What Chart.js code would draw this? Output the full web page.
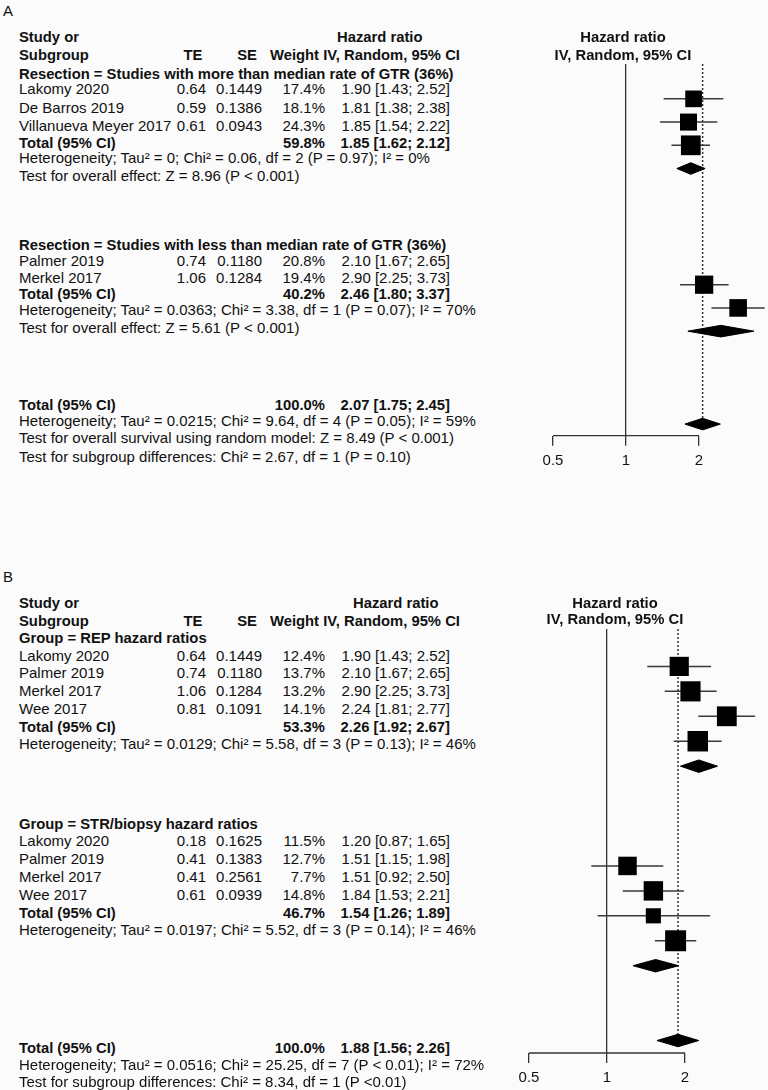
<!DOCTYPE html>
<html>
<head>
<meta charset="utf-8">
<script src="https://cdn.jsdelivr.net/npm/chart.js@4.4.1/dist/chart.umd.min.js"></script>
<style>
    body {
        margin: 0;
        width: 768px;
        height: 1090px;
        position: relative;
        overflow: hidden;
        background: #fbfbfb;
        font-family: "Liberation Sans", Arial, Helvetica, sans-serif;
        font-size: 15px;
        color: #111;
    }
    .t { position: absolute; white-space: nowrap; line-height: 18px; height: 18px; }
    .b { font-weight: bold; font-size: 14.8px; }
    canvas { position: absolute; }
</style>
</head>
<body>
<canvas id="plotA" width="292" height="500" style="left:480px;top:0px"></canvas>
<canvas id="plotB" width="283" height="545" style="left:480px;top:560px"></canvas>
<script>
// ---- Panel A data ----
const aGroupTitles = ['Resection = Studies with more than median rate of GTR (36%)',
                      'Resection = Studies with less than median rate of GTR (36%)'];
const aStudies = ['Lakomy 2020', 'De Barros 2019', 'Villanueva Meyer 2017', 'Palmer 2019', 'Merkel 2017'];
const aGroupOf = [0, 0, 0, 1, 1];
const aTE = [0.64, 0.59, 0.61, 0.74, 1.06];
const aSE = [0.1449, 0.1386, 0.0943, 0.1180, 0.1284];
const aWeight = [17.4, 18.1, 24.3, 20.8, 19.4];
const aHR = [1.90, 1.81, 1.85, 2.10, 2.90];
const aLower = [1.43, 1.38, 1.54, 1.67, 2.25];
const aUpper = [2.52, 2.38, 2.22, 2.65, 3.73];
// subgroup 1, subgroup 2, overall
const aTotalWeight = [59.8, 40.2, 100.0];
const aTotalHR = [1.85, 2.46, 2.07];
const aTotalLower = [1.62, 1.80, 1.75];
const aTotalUpper = [2.12, 3.37, 2.45];
const aGroupNotes = [
    ['Heterogeneity; Tau² = 0; Chi² = 0.06, df = 2 (P = 0.97); I² = 0%',
     'Test for overall effect: Z = 8.96 (P < 0.001)'],
    ['Heterogeneity; Tau² = 0.0363; Chi² = 3.38, df = 1 (P = 0.07); I² = 70%',
     'Test for overall effect: Z = 5.61 (P < 0.001)']
];
const aOverallNotes = ['Heterogeneity; Tau² = 0.0215; Chi² = 9.64, df = 4 (P = 0.05); I² = 59%',
                       'Test for overall survival using random model: Z = 8.49 (P < 0.001)',
                       'Test for subgroup differences: Chi² = 2.67, df = 1 (P = 0.10)'];

// ---- Panel B data ----
const bGroupTitles = ['Group = REP hazard ratios', 'Group = STR/biopsy hazard ratios'];
const bStudies = ['Lakomy 2020', 'Palmer 2019', 'Merkel 2017', 'Wee 2017',
                  'Lakomy 2020', 'Palmer 2019', 'Merkel 2017', 'Wee 2017'];
const bGroupOf = [0, 0, 0, 0, 1, 1, 1, 1];
const bTE = [0.64, 0.74, 1.06, 0.81, 0.18, 0.41, 0.41, 0.61];
const bSE = [0.1449, 0.1180, 0.1284, 0.1091, 0.1625, 0.1383, 0.2561, 0.0939];
const bWeight = [12.4, 13.7, 13.2, 14.1, 11.5, 12.7, 7.7, 14.8];
const bHR = [1.90, 2.10, 2.90, 2.24, 1.20, 1.51, 1.51, 1.84];
const bLower = [1.43, 1.67, 2.25, 1.81, 0.87, 1.15, 0.92, 1.53];
const bUpper = [2.52, 2.65, 3.73, 2.77, 1.65, 1.98, 2.50, 2.21];
const bTotalWeight = [53.3, 46.7, 100.0];
const bTotalHR = [2.26, 1.54, 1.88];
const bTotalLower = [1.92, 1.26, 1.56];
const bTotalUpper = [2.67, 1.89, 2.26];
const bGroupNotes = [
    ['Heterogeneity; Tau² = 0.0129; Chi² = 5.58, df = 3 (P = 0.13); I² = 46%'],
    ['Heterogeneity; Tau² = 0.0197; Chi² = 5.52, df = 3 (P = 0.14); I² = 46%']
];
const bOverallNotes = ['Heterogeneity; Tau² = 0.0516; Chi² = 25.25, df = 7 (P < 0.01); I² = 72%',
                       'Test for subgroup differences: Chi² = 8.34, df = 1 (P <0.01)'];

const axisTicks = [0.5, 1, 2];
const plotRangeMax = 4; // plot area runs past the last tick so wide CIs stay visible

// ---- layout (pixel rows of the text table, row slots of the plot) ----
const layoutA = {
    label: 'A', labelY: 11, headY: [37, 55], hrHeadX: 337,
    groups: [
        { titleY: 74, rowY: [89, 108, 126], totalY: 143, noteY: [158, 176] },
        { titleY: 245, rowY: [260.5, 278], totalY: 294, noteY: [310, 328] }
    ],
    overallY: 405, overallNoteY: [421, 438, 457],
    plotHeadY: [37, 55], plotHeadX: 623,
    studyRows: [0, 1, 2, 8, 9], totalRows: [3, 10, 14],
    rowMin: -1.5, rowMax: 14.5, squareK: 4.0,
    pad: { left: 73, right: 0, top: 64, bottom: 24.3 }
};
const layoutB = {
    label: 'B', labelY: 577, headY: [603, 621], hrHeadX: 353,
    groups: [
        { titleY: 638, rowY: [655.5, 673, 691, 709], totalY: 727, noteY: [744] },
        { titleY: 824, rowY: [841, 859, 877, 895], totalY: 913, noteY: [930] }
    ],
    overallY: 1048, overallNoteY: [1065, 1082],
    plotHeadY: [603, 619], plotHeadX: 615,
    studyRows: [0, 1, 2, 3, 8, 9, 10, 11], totalRows: [4, 12, 15],
    rowMin: -1.5, rowMax: 15.5, squareK: 5.45,
    pad: { left: 49, right: 0, top: 69, bottom: 12 }
};

function txt(s, x, y, align, bold) {
    const d = document.createElement('div');
    d.className = 't' + (bold ? ' b' : '');
    d.textContent = s;
    d.style.left = x + 'px';
    d.style.top = (y - 9) + 'px';
    if (align === 'right') d.style.transform = 'translateX(-100%)';
    if (align === 'center') d.style.transform = 'translateX(-50%)';
    document.body.appendChild(d);
}

function hrText(hr, lo, hi) {
    return hr.toFixed(2) + ' [' + lo.toFixed(2) + '; ' + hi.toFixed(2) + ']';
}

function drawTable(L, d) {
    const X_NAME = 19, X_TE = 206, X_SE = 262, X_W = 325, X_HR = 450;
    txt(L.label, 3, L.labelY, 'left', false);
    txt('Study or', X_NAME, L.headY[0], 'left', true);
    txt('Subgroup', X_NAME, L.headY[1], 'left', true);
    txt('TE', 193, L.headY[1], 'center', true);
    txt('SE', 257, L.headY[1], 'right', true);
    txt('Hazard ratio', L.hrHeadX, L.headY[0], 'left', true);
    txt('Weight IV, Random, 95% CI', 270, L.headY[1], 'left', true);

    L.groups.forEach((g, gi) => {
        txt(d.groupTitles[gi], X_NAME, g.titleY, 'left', true);
        const idx = d.studies.map((s, i) => i).filter(i => d.groupOf[i] === gi);
        idx.forEach((i, k) => {
            const y = g.rowY[k];
            txt(d.studies[i], X_NAME, y, 'left', false);
            txt(d.te[i].toFixed(2), X_TE, y, 'right', false);
            txt(d.se[i].toFixed(4), X_SE, y, 'right', false);
            txt(d.weight[i].toFixed(1) + '%', X_W, y, 'right', false);
            txt(hrText(d.hr[i], d.lower[i], d.upper[i]), X_HR, y, 'right', false);
        });
        txt('Total (95% CI)', X_NAME, g.totalY, 'left', true);
        txt(d.totalWeight[gi].toFixed(1) + '%', X_W, g.totalY, 'right', true);
        txt(hrText(d.totalHR[gi], d.totalLower[gi], d.totalUpper[gi]), X_HR, g.totalY, 'right', true);
        d.groupNotes[gi].forEach((n, k) => txt(n, X_NAME, g.noteY[k], 'left', false));
    });

    txt('Total (95% CI)', X_NAME, L.overallY, 'left', true);
    txt(d.totalWeight[2].toFixed(1) + '%', X_W, L.overallY, 'right', true);
    txt(hrText(d.totalHR[2], d.totalLower[2], d.totalUpper[2]), X_HR, L.overallY, 'right', true);
    d.overallNotes.forEach((n, k) => txt(n, X_NAME, L.overallNoteY[k], 'left', false));

    txt('Hazard ratio', L.plotHeadX, L.plotHeadY[0], 'center', true);
    txt('IV, Random, 95% CI', L.plotHeadX, L.plotHeadY[1], 'center', true);
}

function drawPlot(canvasId, L, d) {
    const datasets = [];
    const DH = 0.25; // diamond half height in row units

    // squares
    datasets.push({
        data: d.hr.map((v, i) => ({ x: v, y: L.studyRows[i] })),
        pointStyle: 'rect',
        pointRadius: d.weight.map(w => L.squareK * Math.sqrt(w) / (2 * Math.SQRT1_2)),
        backgroundColor: '#000',
        borderColor: '#000',
        borderWidth: 0,
        showLine: false
    });
    // diamonds
    d.totalHR.forEach((v, k) => {
        const r = L.totalRows[k];
        datasets.push({
            data: [
                { x: d.totalLower[k], y: r }, { x: v, y: r - DH },
                { x: d.totalUpper[k], y: r }, { x: v, y: r + DH },
                { x: d.totalLower[k], y: r }
            ],
            showLine: true, fill: 'shape', pointRadius: 0,
            borderColor: '#000', backgroundColor: '#000', borderWidth: 1, tension: 0
        });
    });
    // confidence intervals
    d.hr.forEach((v, i) => {
        datasets.push({
            data: [{ x: d.lower[i], y: L.studyRows[i] }, { x: d.upper[i], y: L.studyRows[i] }],
            showLine: true, pointRadius: 0, borderColor: '#3a3a3a', borderWidth: 1.5
        });
    });
    // overall estimate reference (dotted)
    datasets.push({
        data: [{ x: d.totalHR[2], y: L.rowMin }, { x: d.totalHR[2], y: L.totalRows[2] - DH }],
        showLine: true, pointRadius: 0, borderColor: '#333', borderWidth: 1.5, borderDash: [2, 2]
    });
    // x axis line, only across the labelled range
    datasets.push({
        data: [{ x: axisTicks[0], y: L.rowMax }, { x: axisTicks[axisTicks.length - 1], y: L.rowMax }],
        showLine: true, pointRadius: 0, borderColor: '#333', borderWidth: 1.3
    });

    new Chart(document.getElementById(canvasId), {
        type: 'scatter',
        data: { datasets: datasets },
        options: {
            responsive: false,
            animation: false,
            devicePixelRatio: 1,
            layout: { padding: L.pad, autoPadding: false },
            datasets: { scatter: { clip: false } },
            plugins: { legend: { display: false }, tooltip: { enabled: false } },
            scales: {
                x: {
                    type: 'logarithmic',
                    min: axisTicks[0],
                    max: plotRangeMax,
                    afterBuildTicks: function(scale) {
                        scale.ticks = axisTicks.map(v => ({ value: v }));
                    },
                    afterFit: function(scale) {
                        // layout padding already leaves room for the labels
                        scale.paddingLeft = 0;
                        scale.paddingRight = 0;
                    },
                    grid: {
                        color: ctx => (ctx.tick && ctx.tick.value === 1) ? '#333' : 'rgba(0,0,0,0)',
                        tickColor: '#333',
                        tickLength: 10,
                        lineWidth: 1.3
                    },
                    border: { display: false },
                    ticks: {
                        autoSkip: false,
                        maxRotation: 0,
                        padding: 6,
                        color: '#111',
                        font: { family: '"Liberation Sans", Arial, sans-serif', size: 15 },
                        callback: function(value) { return String(value); }
                    }
                },
                y: {
                    type: 'linear',
                    display: false,
                    reverse: true,
                    min: L.rowMin,
                    max: L.rowMax
                }
            }
        }
    });
}

const dataA = {
    groupTitles: aGroupTitles, studies: aStudies, groupOf: aGroupOf, te: aTE, se: aSE,
    weight: aWeight, hr: aHR, lower: aLower, upper: aUpper,
    totalWeight: aTotalWeight, totalHR: aTotalHR, totalLower: aTotalLower, totalUpper: aTotalUpper,
    groupNotes: aGroupNotes, overallNotes: aOverallNotes
};
const dataB = {
    groupTitles: bGroupTitles, studies: bStudies, groupOf: bGroupOf, te: bTE, se: bSE,
    weight: bWeight, hr: bHR, lower: bLower, upper: bUpper,
    totalWeight: bTotalWeight, totalHR: bTotalHR, totalLower: bTotalLower, totalUpper: bTotalUpper,
    groupNotes: bGroupNotes, overallNotes: bOverallNotes
};

drawTable(layoutA, dataA);
drawTable(layoutB, dataB);
drawPlot('plotA', layoutA, dataA);
drawPlot('plotB', layoutB, dataB);
</script>
</body>
</html>
